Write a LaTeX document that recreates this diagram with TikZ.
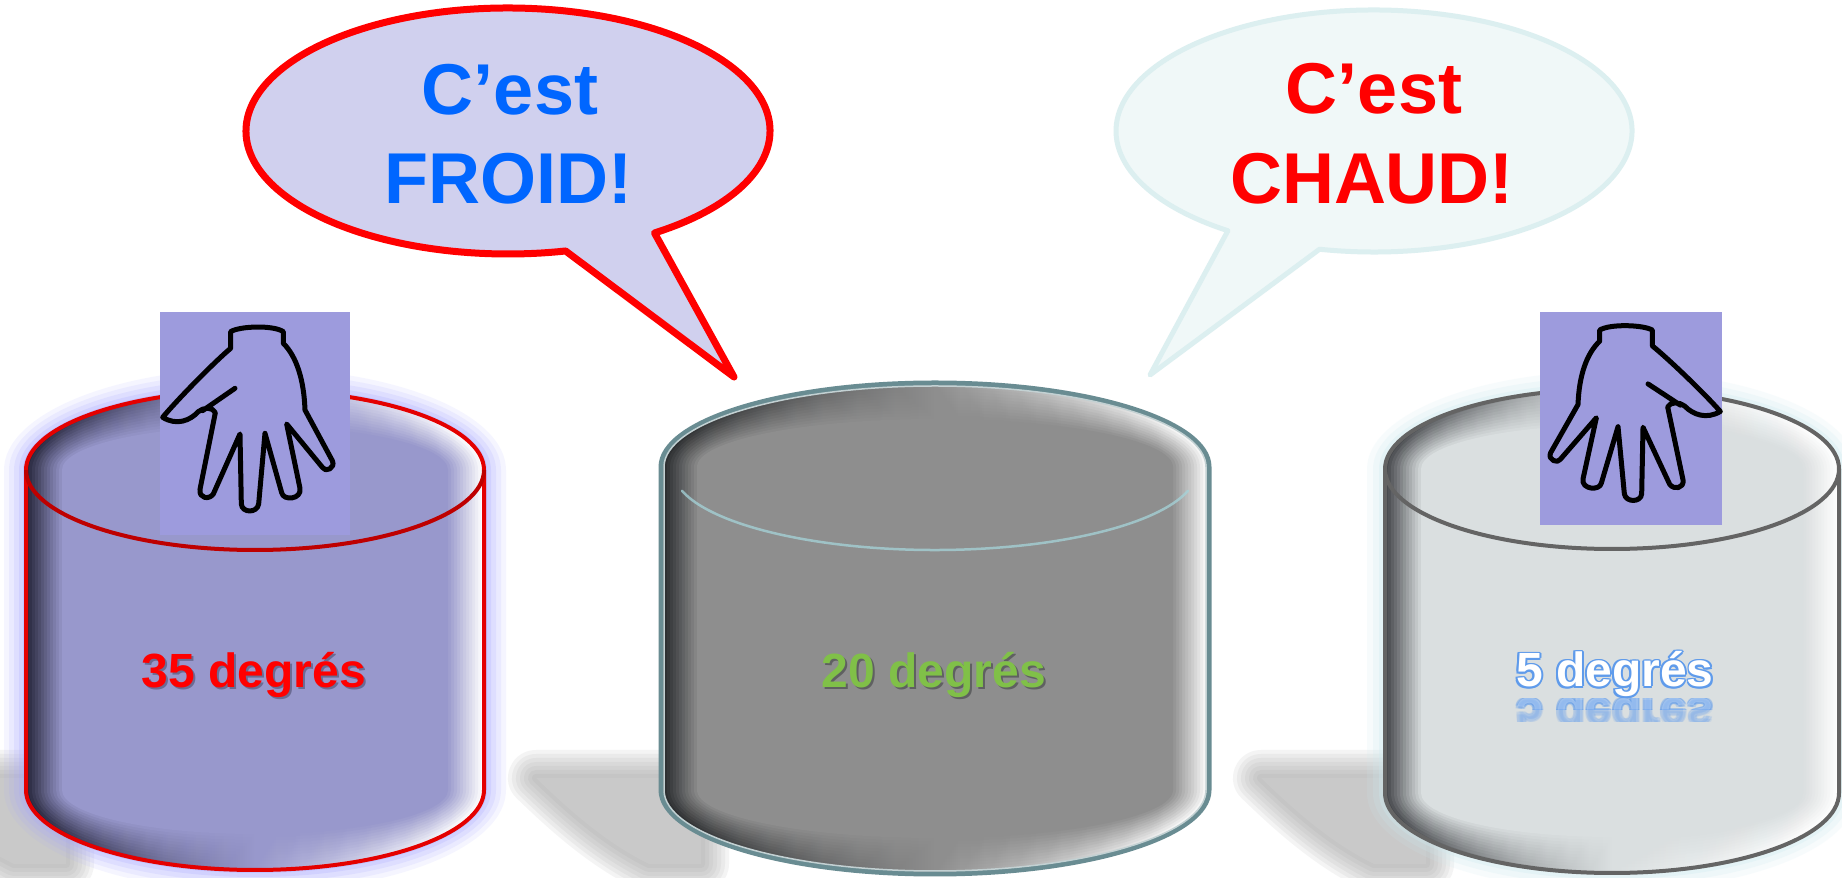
\documentclass[tikz,border=0pt]{standalone}
\usepackage{fontspec}
\setmainfont{Liberation Sans}

% palette
\definecolor{froidblue}{RGB}{0,102,255}
\definecolor{hotred}{RGB}{255,0,0}
\definecolor{bubAfill}{RGB}{208,208,238}
\definecolor{bubBfill}{RGB}{240,248,248}
\definecolor{bubBline}{RGB}{220,239,240}
\definecolor{palm}{RGB}{157,155,221}
\definecolor{cylAbase}{RGB}{152,152,204}
\definecolor{cylAdark}{RGB}{40,40,62}
\definecolor{cylAline}{RGB}{228,0,0}
\definecolor{cylAarc}{RGB}{190,0,0}
\definecolor{cylAglow}{RGB}{165,165,255}
\definecolor{cylBbase}{RGB}{142,142,142}
\definecolor{cylBdark}{RGB}{38,40,42}
\definecolor{cylBline}{RGB}{105,140,146}
\definecolor{cylBarc}{RGB}{165,212,218}
\definecolor{cylCbase}{RGB}{218,223,224}
\definecolor{cylCdark}{RGB}{70,72,76}
\definecolor{cylCline}{RGB}{100,100,100}
\definecolor{cylCglow}{RGB}{205,234,240}
\definecolor{degB}{RGB}{128,192,72}
\definecolor{degCline}{RGB}{95,155,235}
\definecolor{floorshade}{RGB}{140,140,140}

% rim lighting of the tubs: dark on the left, white on the right
\pgfdeclarehorizontalshading{rimA}{100bp}{color(0bp)=(cylAdark); color(26.5bp)=(cylAdark); color(40bp)=(cylAdark!35!cylAbase); color(50bp)=(cylAbase); color(60bp)=(cylAbase!55!white); color(72bp)=(white); color(100bp)=(white)}
\pgfdeclarehorizontalshading{rimB}{100bp}{color(0bp)=(cylBdark); color(26.5bp)=(cylBdark); color(40bp)=(cylBdark!35!cylBbase); color(50bp)=(cylBbase); color(60bp)=(cylBbase!55!white); color(72bp)=(white); color(100bp)=(white)}
\pgfdeclarehorizontalshading{rimC}{100bp}{color(0bp)=(cylCdark); color(26.5bp)=(cylCdark); color(40bp)=(cylCdark!35!cylCbase); color(50bp)=(cylCbase); color(60bp)=(cylCbase!55!white); color(72bp)=(white); color(100bp)=(white)}

% tub body: rim shading, then a smooth inner bevel in the base colour
\newcommand\tubbody[6]{%
  \shade[shading=rim#6][cylsil={#1}{#2}{#3}{#4}{#5}{0}];
  \foreach \k in {1,...,12}{%
    \pgfmathsetmacro\insetd{-3*\k}%
    \pgfmathsetmacro\insetop{1/(13-\k)}%
    \fill[cyl#6base, opacity=\insetop][cylsil={#1}{#2}{#3}{#4}{#5}{\insetd}];}%
}

% soft floor shadow left of a tub whose left side is at #1
\newcommand\floorshadow[1]{%
  \foreach \sw in {56,48,40,32,24,16,8}{%
    \draw[floorshade, opacity=0.09, line width=\sw pt, line join=round]
      (#1-125,100) -- (#1+40,100) -- (#1+40,14) -- (#1-12,14)
      .. controls (#1-55,35) and (#1-92,68) .. cycle;}%
  \fill[black!21] (#1-125,100) -- (#1+40,100) -- (#1+40,14) -- (#1-12,14)
      .. controls (#1-55,35) and (#1-92,68) .. cycle;
}

% text with a small dark drop shadow
\newcommand\dropshadowtext[3]{\leavevmode\rlap{\color{#1}\hspace*{1.8pt}\raisebox{-1.8pt}{#3}}{\color{#2}#3}}

% white letters with a blue rim
\newcommand\ringtext[1]{\leavevmode
  \rlap{\color{degCline}\hspace*{1.8pt}#1}%
  \rlap{\color{degCline}\hspace*{-1.8pt}#1}%
  \rlap{\color{degCline}\raisebox{1.8pt}{#1}}%
  \rlap{\color{degCline}\raisebox{-1.8pt}{#1}}%
  \rlap{\color{degCline}\hspace*{1.3pt}\raisebox{1.3pt}{#1}}%
  \rlap{\color{degCline}\hspace*{-1.3pt}\raisebox{1.3pt}{#1}}%
  \rlap{\color{degCline}\hspace*{1.3pt}\raisebox{-1.3pt}{#1}}%
  \rlap{\color{degCline}\hspace*{-1.3pt}\raisebox{-1.3pt}{#1}}%
  {\color{white}#1}}

\begin{document}
\begin{tikzpicture}[x=1pt,y=1pt,
  cylsil/.style n args={6}{insert path={
    ({#1-#4-(#6)},#2) -- ({#1-#4-(#6)},#3)
    arc[start angle=180,end angle=360,x radius={#4+(#6)},y radius={#5+(#6)}]
    -- ({#1+#4+(#6)},#2)
    arc[start angle=0,end angle=180,x radius={#4+(#6)},y radius={#5+(#6)}] -- cycle}},
  degree/.style={font=\fontsize{48}{56}\selectfont\bfseries, inner sep=0pt, anchor=base},
  bubbletext/.style={font=\fontsize{72}{86}\selectfont\bfseries, inner sep=0pt, anchor=base},
  palmbox/.style={fill=palm, draw=none, inner sep=0pt},
  handline/.style={draw=black, line width=5pt, line join=round, line cap=round},
  handoutline/.style={insert path={
    (242,145) -- (242,95)
    .. controls (270,78) and (370,75) .. (400,95)
    -- (400,130)
    .. controls (440,170) and (462,240) .. (465,330)
    -- (547,482)
    .. controls (558,505) and (525,518) .. (518,503)
    -- (410,372)
    -- (450,565)
    .. controls (456,598) and (400,604) .. (395,578)
    -- (345,400)
    -- (326,612)
    .. controls (322,640) and (276,640) .. (274,612)
    -- (270,402)
    -- (190,582)
    .. controls (178,600) and (146,596) .. (150,568)
    -- (196,338)
    .. controls (188,320) and (160,322) .. (145,335)
    .. controls (120,362) and (80,378) .. (38,352)
    .. controls (90,290) and (200,180) .. cycle
    (255,265) -- (158,332)}}]

\useasboundingbox (0,0) rectangle (1842,878);
\fill[white] (0,0) rectangle (1842,878);
\clip (0,0) rectangle (1842,878);

% floor shadows
\floorshadow{26}
\floorshadow{661}
\floorshadow{1386}

% glows
\foreach \gd/\go in {22/0.1,17/0.13,12/0.17,7/0.22,3/0.3}{
  \fill[cylAglow, opacity=\go][cylsil={255}{408}{88}{229}{80}{\gd}];}
\foreach \gd/\go in {18/0.15,12/0.2,6/0.3}{
  \fill[cylCglow, opacity=\go][cylsil={1612}{409}{85}{227}{80}{\gd}];}

% tubs
\tubbody{255}{408}{88}{229}{80}{A}
\tubbody{935}{411}{88}{274}{84}{B}
\tubbody{1612}{409}{85}{227}{80}{C}

\draw[cylAline, line width=4pt][cylsil={255}{408}{88}{229}{80}{0}];
\draw[cylAarc, line width=4pt] (26,408) arc[start angle=180,end angle=360,x radius=229,y radius=80];

\draw[cylBline, line width=5pt][cylsil={935}{411}{88}{274}{84}{0}];
\draw[cylBline!40!white, line width=1.5pt][cylsil={935}{411}{88}{274}{84}{-3}];
\draw[cylBarc, line width=2.5pt, opacity=0.75, line cap=round]
  ([shift={(935,408)}]195:262 and 80) arc[start angle=195,end angle=345,x radius=262,y radius=80];

\draw[cylCline, line width=4pt][cylsil={1612}{409}{85}{227}{80}{0}];
\draw[cylCline, line width=4pt] (1385,409) arc[start angle=180,end angle=360,x radius=227,y radius=80];

% temperatures
\node[degree] (tempA) at (254,190) {\dropshadowtext{cylAdark!40!cylAbase}{hotred}{35 degrés}};
\node[degree] (tempB) at (934,190) {\dropshadowtext{cylBdark!45!cylBbase}{degB}{20 degrés}};
\node[degree] (tempC) at (1615,191) {\ringtext{5 degrés}};
\begin{scope}
  \clip (1490,179) rectangle (1740,168);
  \node[degree, opacity=0.3] (tempCmirror) at (1615,179) {\scalebox{1}[-1]{\ringtext{5 degrés}}};
\end{scope}
\begin{scope}
  \clip (1490,168) rectangle (1740,156);
  \node[degree, opacity=0.12] (tempCmirrorlow) at (1615,179) {\scalebox{1}[-1]{\ringtext{5 degrés}}};
\end{scope}

% hands
\node[palmbox, minimum width=190pt, minimum height=223pt] (palmL) at (255,454.5) {};
\begin{scope}[shift={(150,578)}, x=0.3333pt, y=-0.3333pt]
  \draw[handline][handoutline];
\end{scope}
\node[palmbox, minimum width=182pt, minimum height=213pt] (palmR) at (1631,459.5) {};
\begin{scope}[shift={(1733,578)}, x=-0.3333pt, y=-0.3167pt]
  \draw[handline][handoutline];
\end{scope}

% speech bubbles
\filldraw[fill=bubAfill, draw=hotred, line width=7pt, line join=round]
  ([shift={(508,747)}]304:262 and 123)
  arc[start angle=304,end angle=642.7,x radius=262,y radius=123]
  -- (734,501) -- cycle;
\node[bubbletext, text=froidblue] (coldA) at (510,763) {C’est};
\node[bubbletext, text=froidblue] (coldB) at (508,674) {FROID!};

\filldraw[fill=bubBfill, draw=bubBline, line width=5pt, line join=round]
  ([shift={(1374,747)}]257.8:258 and 121)
  arc[start angle=257.8,end angle=595.5,x radius=258,y radius=121]
  -- (1150,503) -- cycle;
\node[bubbletext, text=hotred] (hotA) at (1374,764) {C’est};
\node[bubbletext, text=hotred] (hotB) at (1372,674) {CHAUD!};

\end{tikzpicture}
\end{document}
